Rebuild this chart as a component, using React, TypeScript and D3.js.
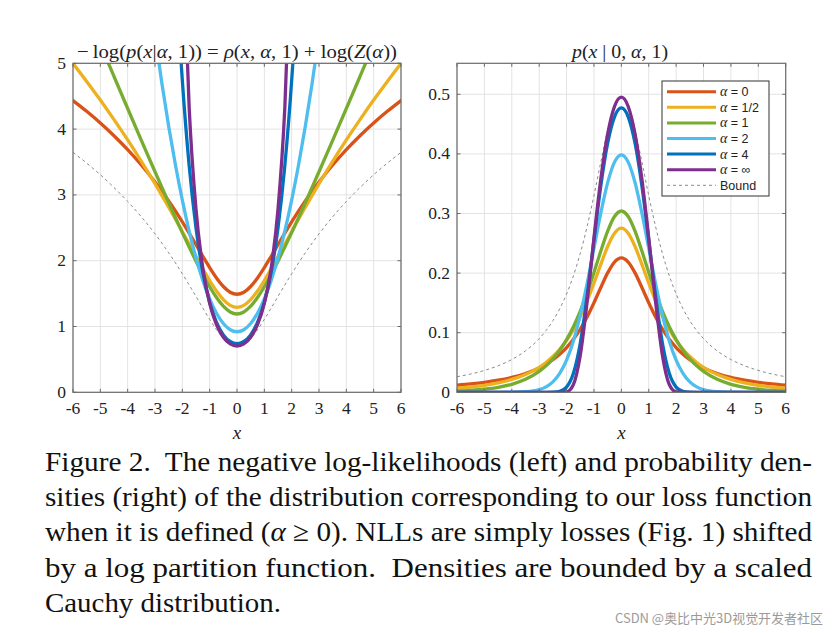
import React from "react";
import * as d3 from "d3";

// ---- data ----
const xValues = [-6, -5.5, -5, -4.5, -4, -3.5, -3, -2.75, -2.5, -2.25, -2, -1.75, -1.5, -1.25, -1, -0.75, -0.5, -0.25, 0, 0.25, 0.5, 0.75, 1, 1.25, 1.5, 1.75, 2, 2.25, 2.5, 2.75, 3, 3.5, 4, 4.5, 5, 5.5, 6];

const seriesLabels = ["0", "1/2", "1", "2", "4", "∞"];
const seriesColors = ["#D95319", "#EDB120", "#77AC30", "#4DBEEE", "#0072BD", "#7E2F8E"];

// negative log-likelihoods (left panel); null = far above the plot top
const nllAlpha0 = [4.434, 4.270, 4.093, 3.899, 3.687, 3.454, 3.195, 3.055, 2.907, 2.752, 2.589, 2.419, 2.244, 2.067, 1.895, 1.738, 1.608, 1.521, 1.490, 1.521, 1.608, 1.738, 1.895, 2.067, 2.244, 2.419, 2.589, 2.752, 2.907, 3.055, 3.195, 3.454, 3.687, 3.899, 4.093, 4.270, 4.434];
const nllAlphaHalf = [4.998, 4.725, 4.441, 4.144, 3.835, 3.510, 3.170, 2.993, 2.813, 2.629, 2.441, 2.252, 2.062, 1.876, 1.699, 1.539, 1.408, 1.321, 1.290, 1.321, 1.408, 1.539, 1.699, 1.876, 2.062, 2.252, 2.441, 2.629, 2.813, 2.993, 3.170, 3.510, 3.835, 4.144, 4.441, 4.725, 4.998];
const nllAlpha1 = [6.273, 5.780, 5.289, 4.800, 4.313, 3.830, 3.352, 3.116, 2.883, 2.652, 2.426, 2.206, 1.993, 1.791, 1.604, 1.440, 1.308, 1.221, 1.190, 1.221, 1.308, 1.440, 1.604, 1.791, 1.993, 2.206, 2.426, 2.652, 2.883, 3.116, 3.352, 3.830, 4.313, 4.800, 5.289, 5.780, 6.273];
const nllAlpha2 = [null, null, null, null, 8.920, 7.045, 5.420, 4.701, 4.045, 3.451, 2.920, 2.451, 2.045, 1.701, 1.420, 1.201, 1.045, 0.951, 0.920, 0.951, 1.045, 1.201, 1.420, 1.701, 2.045, 2.451, 2.920, 3.451, 4.045, 4.701, 5.420, 7.045, 8.920, null, null, null, null];
const nllAlpha4 = [null, null, null, null, null, null, null, null, 8.750, 6.470, 4.740, 3.444, 2.498, 1.826, 1.365, 1.061, 0.873, 0.772, 0.740, 0.772, 0.873, 1.061, 1.365, 1.826, 2.498, 3.444, 4.740, 6.470, 8.750, null, null, null, null, null, null, null, null];
const nllAlphaInf = [null, null, null, null, null, null, null, null, null, null, 7.092, 4.327, 2.783, 1.887, 1.352, 1.028, 0.836, 0.735, 0.703, 0.735, 0.836, 1.028, 1.352, 1.887, 2.783, 4.327, 7.092, null, null, null, null, null, null, null, null, null, null];
const nllBound = [3.647, 3.483, 3.306, 3.112, 2.900, 2.667, 2.408, 2.268, 2.120, 1.965, 1.802, 1.632, 1.457, 1.280, 1.108, 0.951, 0.821, 0.734, 0.703, 0.734, 0.821, 0.951, 1.108, 1.280, 1.457, 1.632, 1.802, 1.965, 2.120, 2.268, 2.408, 2.667, 2.900, 3.112, 3.306, 3.483, 3.647];

// densities (right panel)
const pAlpha0 = [0.0119, 0.0140, 0.0167, 0.0203, 0.0250, 0.0316, 0.0410, 0.0471, 0.0546, 0.0638, 0.0751, 0.0890, 0.1061, 0.1265, 0.1503, 0.1759, 0.2004, 0.2186, 0.2254, 0.2186, 0.2004, 0.1759, 0.1503, 0.1265, 0.1061, 0.0890, 0.0751, 0.0638, 0.0546, 0.0471, 0.0410, 0.0316, 0.0250, 0.0203, 0.0167, 0.0140, 0.0119];
const pAlphaHalf = [0.0067, 0.0089, 0.0118, 0.0159, 0.0216, 0.0299, 0.0420, 0.0501, 0.0600, 0.0722, 0.0871, 0.1052, 0.1272, 0.1532, 0.1829, 0.2146, 0.2446, 0.2668, 0.2753, 0.2668, 0.2446, 0.2146, 0.1829, 0.1532, 0.1272, 0.1052, 0.0871, 0.0722, 0.0600, 0.0501, 0.0420, 0.0299, 0.0216, 0.0159, 0.0118, 0.0089, 0.0067];
const pAlpha1 = [0.0019, 0.0031, 0.0051, 0.0082, 0.0134, 0.0217, 0.0350, 0.0443, 0.0560, 0.0705, 0.0884, 0.1101, 0.1363, 0.1668, 0.2011, 0.2369, 0.2703, 0.2949, 0.3042, 0.2949, 0.2703, 0.2369, 0.2011, 0.1668, 0.1363, 0.1101, 0.0884, 0.0705, 0.0560, 0.0443, 0.0350, 0.0217, 0.0134, 0.0082, 0.0051, 0.0031, 0.0019];
const pAlpha2 = [0, 0, 0, 0, 0.0001, 0.0009, 0.0044, 0.0091, 0.0175, 0.0317, 0.0539, 0.0862, 0.1294, 0.1824, 0.2417, 0.3008, 0.3517, 0.3862, 0.3985, 0.3862, 0.3517, 0.3008, 0.2417, 0.1824, 0.1294, 0.0862, 0.0539, 0.0317, 0.0175, 0.0091, 0.0044, 0.0009, 0.0001, 0, 0, 0, 0];
const pAlpha4 = [0, 0, 0, 0, 0, 0, 0, 0, 0.0002, 0.0016, 0.0087, 0.0319, 0.0823, 0.1610, 0.2554, 0.3462, 0.4178, 0.4622, 0.4771, 0.4622, 0.4178, 0.3462, 0.2554, 0.1610, 0.0823, 0.0319, 0.0087, 0.0016, 0.0002, 0, 0, 0, 0, 0, 0, 0, 0];
const pAlphaInf = [0, 0, 0, 0, 0, 0, 0, 0, 0, 0, 0.0008, 0.0132, 0.0618, 0.1515, 0.2588, 0.3578, 0.4334, 0.4796, 0.4951, 0.4796, 0.4334, 0.3578, 0.2588, 0.1515, 0.0618, 0.0132, 0.0008, 0, 0, 0, 0, 0, 0, 0, 0, 0, 0];
const pBound = [0.0261, 0.0307, 0.0367, 0.0445, 0.0550, 0.0695, 0.0900, 0.1036, 0.1200, 0.1402, 0.1650, 0.1956, 0.2330, 0.2780, 0.3301, 0.3864, 0.4401, 0.4801, 0.4951, 0.4801, 0.4401, 0.3864, 0.3301, 0.2780, 0.2330, 0.1956, 0.1650, 0.1402, 0.1200, 0.1036, 0.0900, 0.0695, 0.0550, 0.0445, 0.0367, 0.0307, 0.0261];

const xTicks = [-6, -5, -4, -3, -2, -1, 0, 1, 2, 3, 4, 5, 6];
const leftYTicks = [0, 1, 2, 3, 4, 5];
const rightYTicks = [0, 0.1, 0.2, 0.3, 0.4, 0.5];

const captionLines = [
  "Figure 2.\u00A0 The negative log-likelihoods (left) and probability den-",
  "sities (right) of the distribution corresponding to our loss function",
  "when it is defined (α ≥ 0). NLLs are simply losses (Fig. 1) shifted",
  "by a log partition function.\u00A0 Densities are bounded by a scaled",
  "Cauchy distribution.",
];

const nllSeries = [nllAlpha0, nllAlphaHalf, nllAlpha1, nllAlpha2, nllAlpha4, nllAlphaInf];
const densitySeries = [pAlpha0, pAlphaHalf, pAlpha1, pAlpha2, pAlpha4, pAlphaInf];

const SERIF = "Liberation Serif";
const SANS = "Liberation Sans";

type PanelProps = {
  id: string;
  x0: number; x1: number; y0: number; y1: number;
  yMax: number;
  yTicks: number[];
  yFmt: (v: number) => string;
  series: (number | null)[][];
  bound: number[];
};

function Panel(p: PanelProps) {
  const xs = d3.scaleLinear().domain([-6, 6]).range([p.x0, p.x1]);
  const ys = d3.scaleLinear().domain([0, p.yMax]).range([p.y1, p.y0]);
  const mk = (vals: (number | null)[]) =>
    d3.line<number>()
      .defined((_, i) => vals[i] !== null && vals[i] !== undefined)
      .x((d) => xs(d))
      .y((_, i) => ys(vals[i] as number))
      .curve(d3.curveMonotoneX)(xValues) || "";
  const axisCol = "#6b6b6b";
  const tl = 3.5;
  return (
    <g>
      <defs>
        <clipPath id={p.id}>
          <rect x={p.x0} y={p.y0} width={p.x1 - p.x0} height={p.y1 - p.y0} />
        </clipPath>
      </defs>
      <rect x={p.x0} y={p.y0} width={p.x1 - p.x0} height={p.y1 - p.y0} fill="#fff" />
      {xTicks.map((t) => (
        <line key={"gx" + t} x1={xs(t)} x2={xs(t)} y1={p.y0} y2={p.y1} stroke="#e3e3e3" strokeWidth={1} />
      ))}
      {p.yTicks.map((t) => (
        <line key={"gy" + t} x1={p.x0} x2={p.x1} y1={ys(t)} y2={ys(t)} stroke="#e3e3e3" strokeWidth={1} />
      ))}
      <g clipPath={`url(#${p.id})`}>
        <path d={mk(p.bound)} fill="none" stroke="#8a8a8a" strokeWidth={1} strokeDasharray="3,3" />
        {p.series.map((s, i) => (
          <path key={i} d={mk(s)} fill="none" stroke={seriesColors[i]} strokeWidth={3.3} strokeLinejoin="round" strokeLinecap="round" />
        ))}
      </g>
      <rect x={p.x0} y={p.y0} width={p.x1 - p.x0} height={p.y1 - p.y0} fill="none" stroke={axisCol} strokeWidth={1.2} />
      {xTicks.map((t) => (
        <g key={"tx" + t}>
          <line x1={xs(t)} x2={xs(t)} y1={p.y1} y2={p.y1 - tl} stroke={axisCol} />
          <line x1={xs(t)} x2={xs(t)} y1={p.y0} y2={p.y0 + tl} stroke={axisCol} />
          <text x={xs(t)} y={p.y1 + 22} textAnchor="middle" fontFamily={SERIF} fontSize={17.5} fill="#222">{t}</text>
        </g>
      ))}
      {p.yTicks.map((t) => (
        <g key={"ty" + t}>
          <line x1={p.x0} x2={p.x0 + tl} y1={ys(t)} y2={ys(t)} stroke={axisCol} />
          <line x1={p.x1} x2={p.x1 - tl} y1={ys(t)} y2={ys(t)} stroke={axisCol} />
          <text x={p.x0 - 7} y={ys(t) + 5.5} textAnchor="end" fontFamily={SERIF} fontSize={17.5} fill="#222">{p.yFmt(t)}</text>
        </g>
      ))}
      <text x={(p.x0 + p.x1) / 2} y={p.y1 + 47} textAnchor="middle" fontFamily={SERIF} fontStyle="italic" fontSize={19} fill="#222">x</text>
    </g>
  );
}

export default function App() {
  const legendX = 662, legendY = 81, legendW = 107, legendH = 115;
  const rowY = (i: number) => 91.7 + i * 15.6;
  return (
    <svg width={838} height={633} style={{ position: "absolute", left: 0, top: 0, background: "#fff" }}>
      <rect x={0} y={0} width={838} height={633} fill="#fff" />
      <Panel id="clipL" x0={73} x1={401} y0={63.3} y1={392.3} yMax={5} yTicks={leftYTicks} yFmt={(v) => String(v)} series={nllSeries} bound={nllBound} />
      <Panel id="clipR" x0={457} x1={785.7} y0={63.3} y1={392.3} yMax={0.552} yTicks={rightYTicks} yFmt={(v) => String(v)} series={densitySeries} bound={pBound} />

      {/* titles */}
      <text x={77} y={58} fontFamily={SERIF} fontSize={19} fill="#222" textLength={320} lengthAdjust="spacingAndGlyphs">
        −{"\u2009"}log(<tspan fontStyle="italic">p</tspan>(<tspan fontStyle="italic">x</tspan>|<tspan fontStyle="italic">α</tspan>, 1)) = <tspan fontStyle="italic">ρ</tspan>(<tspan fontStyle="italic">x</tspan>, <tspan fontStyle="italic">α</tspan>, 1) + log(<tspan fontStyle="italic">Z</tspan>(<tspan fontStyle="italic">α</tspan>))
      </text>
      <text x={572} y={58} fontFamily={SERIF} fontSize={19} fill="#222" textLength={96} lengthAdjust="spacingAndGlyphs">
        <tspan fontStyle="italic">p</tspan>(<tspan fontStyle="italic">x</tspan> | 0, <tspan fontStyle="italic">α</tspan>, 1)
      </text>

      {/* legend */}
      <rect x={legendX} y={legendY} width={legendW} height={legendH} fill="#fff" stroke="#333" strokeWidth={1} />
      {seriesLabels.map((lab, i) => (
        <g key={"lg" + i}>
          <line x1={667} x2={716} y1={rowY(i)} y2={rowY(i)} stroke={seriesColors[i]} strokeWidth={3} />
          <text x={720} y={rowY(i) + 4.5} fontSize={12.5} fill="#222">
            <tspan fontFamily={SERIF} fontStyle="italic" fontSize={14}>α</tspan>
            <tspan fontFamily={SANS}> = {lab}</tspan>
          </text>
        </g>
      ))}
      <line x1={667} x2={716} y1={rowY(6)} y2={rowY(6)} stroke="#8a8a8a" strokeWidth={1} strokeDasharray="3,3" />
      <text x={720} y={rowY(6) + 4.5} fontFamily={SANS} fontSize={12.5} fill="#222">Bound</text>

      {/* caption */}
      {captionLines.map((line, i) => {
        const y = 471 + i * 35.2;
        const justified = i < captionLines.length - 1;
        const extra = justified
          ? { textLength: 767, lengthAdjust: "spacingAndGlyphs" }
          : { textLength: 236, lengthAdjust: "spacingAndGlyphs" };
        if (i === 2) {
          return (
            <text key={"c" + i} x={45} y={y} fontFamily={SERIF} fontSize={28} fill="#111" {...extra}>
              when it is defined (<tspan fontStyle="italic">α</tspan> ≥ 0). NLLs are simply losses (Fig. 1) shifted
            </text>
          );
        }
        return (
          <text key={"c" + i} x={45} y={y} fontFamily={SERIF} fontSize={28} fill="#111" {...extra}>
            {line}
          </text>
        );
      })}

      {/* watermark */}
      <text x={615} y={623} fontFamily="'Noto Sans CJK SC', sans-serif" fontSize={13} fill="#9a9a9a" textLength={208} lengthAdjust="spacingAndGlyphs">
        CSDN @奥比中光3D视觉开发者社区
      </text>
    </svg>
  );
}
